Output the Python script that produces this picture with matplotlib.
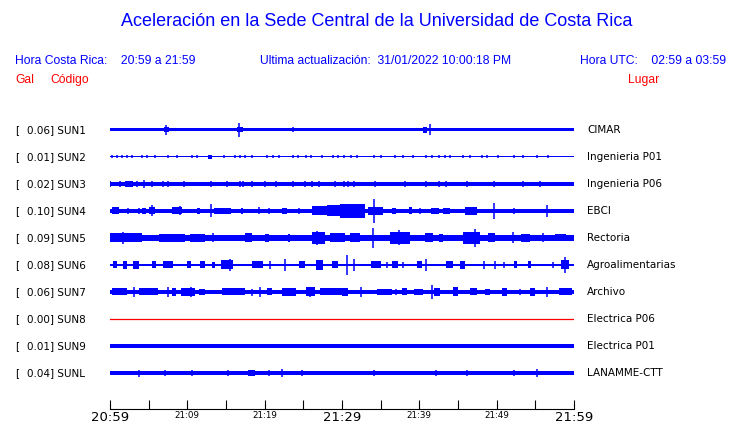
import numpy as np
import matplotlib.pyplot as plt

# ---- data ----
gal = [0.06, 0.01, 0.02, 0.10, 0.09, 0.08, 0.06, 0.00, 0.01, 0.04]
codes = ['SUN1', 'SUN2', 'SUN3', 'SUN4', 'SUN5', 'SUN6', 'SUN7', 'SUN8', 'SUN9', 'SUNL']
places = ['CIMAR', 'Ingenieria P01', 'Ingenieria P06', 'EBCI', 'Rectoria',
          'Agroalimentarias', 'Archivo', 'Electrica P06', 'Electrica P01', 'LANAMME-CTT']

# background half-amplitude of each trace (pixels)
base_amp = [1.5, 0.5, 2.1, 2.1, 2.8, 1.4, 2.1, 0.0, 1.7, 2.3]

# events: (start minute, end minute, half-amplitude px); start == end -> spike
ev_sun1 = [(7.0, 7.6, 2.5), (7.3, 7.3, 4.7), (16.4, 17.2, 2.5), (16.7, 16.7, 7),
           (23.7, 23.7, 2.5), (40.5, 41.0, 3), (41.4, 41.4, 5.5)]
ev_sun2 = [(t, t, 1.5) for t in
           [0.2, 0.9, 1.5, 2.2, 2.8, 4.1, 4.8, 5.8, 7.5, 8.6, 10.6, 11.2, 14.7, 16.2,
            16.8, 17.5, 18.3, 20.3, 21.1, 21.8, 23.6, 24.3, 25.4, 26.0, 27.4, 28.9,
            29.5, 30.2, 31.1, 31.9, 34.1, 35.0, 36.9, 37.9, 39.2, 40.9, 41.6, 42.5,
            43.3, 44.0, 45.7, 46.6, 48.1, 48.7, 50.2, 52.2, 53.4, 55.2, 56.7]] + \
          [(12.7, 13.2, 2.0)]
ev_sun3 = [(t, t, 3) for t in
           [0.0, 1.3, 3.45, 5.4, 6.9, 7.5, 9.6, 15.1, 16.8, 17.2, 18.3, 20.0, 21.5,
            23.7, 25.2, 26.1, 27.0, 29.1, 30.2, 30.8, 31.5, 34.3, 38.1, 40.9, 42.5,
            43.5, 46.1, 49.6, 55.6]] + \
          [(1.9, 3.0, 2.8), (4.4, 4.4, 3.7), (13.1, 13.1, 3.3), (53.4, 53.4, 3.3),
           (57.3, 60.0, 2.4)]
ev_sun4 = [(0.2, 1.1, 3.5), (2.3, 2.3, 3), (3.7, 3.7, 3), (4.2, 4.6, 3), (5.1, 5.8, 3.5),
           (5.4, 5.4, 5.5), (8.0, 9.3, 3.5), (9.1, 9.1, 4.5), (11.2, 11.6, 3),
           (13.1, 13.1, 6.5), (13.4, 15.7, 3), (16.9, 17.2, 3), (19.3, 19.3, 3.5),
           (20.5, 20.5, 3), (22.3, 22.9, 3), (24.5, 24.5, 3), (26.1, 28.0, 4.5),
           (28.0, 30.4, 5.5), (29.7, 33.0, 7), (33.4, 35.3, 4), (34.2, 34.2, 12),
           (36.5, 37.0, 3), (38.6, 39.0, 3.5), (40.1, 40.1, 3), (41.5, 42.5, 3),
           (43.0, 44.0, 3), (45.9, 47.4, 4), (49.6, 49.6, 8), (52.2, 52.2, 3),
           (56.5, 56.5, 6)]
ev_sun5 = [(0.0, 4.1, 4.5), (1.7, 1.7, 6), (6.3, 9.7, 4), (10.3, 12.3, 4), (13.3, 13.3, 4.5),
           (17.5, 18.3, 4.5), (20.0, 20.5, 4), (23.0, 23.3, 4), (26.1, 27.8, 6),
           (26.8, 26.8, 7), (28.5, 30.4, 4.5), (31.0, 32.3, 4.5), (34.0, 34.0, 10),
           (36.2, 38.8, 6), (37.4, 37.4, 7.5), (40.7, 41.8, 4.5), (42.5, 43.0, 4),
           (45.6, 47.8, 6), (47.2, 47.2, 9), (48.9, 49.8, 4.5), (52.1, 52.1, 5.5),
           (53.2, 54.3, 4), (56.0, 56.0, 4.5), (57.5, 59.0, 3.5)]
ev_sun6 = [(0.4, 0.9, 3.5), (1.7, 2.2, 4), (3.0, 3.7, 4), (5.4, 5.9, 3.5), (6.8, 8.2, 3.5),
           (9.9, 10.5, 3.5), (11.6, 12.3, 3.5), (13.2, 13.6, 3), (14.3, 15.9, 4.5),
           (15.5, 15.5, 6), (18.4, 19.8, 3.5), (20.7, 20.7, 3.5), (22.6, 22.6, 6.5),
           (24.5, 25.2, 3.5), (26.6, 27.5, 5), (28.7, 29.5, 3.5), (30.7, 30.7, 10),
           (31.5, 31.5, 6), (33.7, 35.0, 3.5), (35.8, 35.8, 3), (36.5, 37.3, 3.5),
           (37.9, 37.9, 3), (39.7, 40.3, 3.5), (40.9, 40.9, 6), (43.5, 44.3, 3.5),
           (45.3, 45.9, 4), (48.3, 48.3, 4), (49.8, 49.8, 3.5), (50.9, 50.9, 3),
           (52.2, 52.6, 3.5), (54.0, 54.5, 3.5), (57.3, 57.3, 3), (58.3, 59.3, 4.5),
           (58.8, 58.8, 8)]
ev_sun7 = [(0.2, 2.2, 3.5), (3.1, 3.1, 5), (3.8, 6.2, 3.5), (7.5, 7.5, 5.5), (8.0, 8.5, 4),
           (9.2, 11.0, 4), (10.5, 10.5, 5), (11.5, 12.3, 3), (14.5, 17.5, 3.5),
           (18.3, 18.3, 3.5), (19.4, 19.4, 5), (20.3, 21.0, 3.5), (22.3, 24.0, 4),
           (25.3, 26.5, 4.5), (25.9, 25.9, 5.5), (27.2, 30.0, 3.5), (30.0, 30.8, 4),
           (32.5, 32.5, 4.5), (34.5, 36.5, 3), (37.0, 37.0, 3), (37.8, 38.4, 3.5),
           (39.3, 40.5, 3), (41.6, 41.6, 7), (41.9, 42.7, 4), (44.4, 45.0, 4.5),
           (46.5, 47.4, 3.5), (48.5, 49.2, 3), (50.7, 51.4, 4), (53.0, 53.0, 3),
           (54.3, 55.0, 4), (56.5, 56.5, 5), (58.0, 59.8, 3.5)]
ev_sun8 = []
ev_sun9 = []
ev_sunl = [(3.7, 3.7, 3.5), (7.1, 7.1, 3), (10.6, 10.6, 3), (15.3, 15.3, 3),
           (17.9, 18.8, 3), (20.5, 20.5, 3), (22.2, 22.2, 4), (24.8, 24.8, 3),
           (34.1, 34.1, 3), (42.2, 42.2, 3), (46.1, 46.1, 3), (52.2, 52.2, 3),
           (55.2, 55.2, 4)]
events = [ev_sun1, ev_sun2, ev_sun3, ev_sun4, ev_sun5, ev_sun6, ev_sun7, ev_sun8, ev_sun9, ev_sunl]

tick_min = list(range(0, 61, 5))
tick_txt = ['20:59', '', '21:09', '', '21:19', '', '21:29', '', '21:39', '', '21:49', '', '21:59']

# ---- figure ----
W, H = 740, 423
ROW = 27.0  # px between traces
blue = '#0000ff'

fig = plt.figure(figsize=(W / 100, H / 100), dpi=100)

def ftext(x, y, s, **kw):
    fig.text(x / W, 1 - y / H, s, va='center', **kw)

ftext(377, 22, 'Aceleración en la Sede Central de la Universidad de Costa Rica',
      ha='center', fontsize=13, color=blue, family='Liberation Sans')
hdr = dict(fontsize=8.7, color=blue, family='Liberation Sans')
ftext(15, 61, 'Hora Costa Rica:    20:59 a 21:59', **hdr)
ftext(260, 61, 'Ultima actualización:  31/01/2022 10:00:18 PM', **hdr)
ftext(580, 61, 'Hora UTC:    02:59 a 03:59', **hdr)
red = dict(fontsize=8.7, color='red', family='Liberation Sans')
ftext(15, 80, 'Gal', **red)
ftext(50, 80, 'Código', **red)
ftext(628, 80, 'Lugar', **red)

ax = fig.add_axes([110 / W, 1 - 409 / H, 464 / W, (409 - 110) / H])
ax.set_xlim(0, 60)
ax.set_ylim((409 - 130) / ROW, (110 - 130) / ROW)

for i in range(len(codes)):
    y0 = 130 + ROW * i
    ftext(15, y0, '[', fontsize=7.5)
    ftext(27, y0, f'{gal[i]:.2f}] {codes[i]}', fontsize=7.5)
    ftext(587, y0, places[i], fontsize=7.5)

    if base_amp[i] == 0:
        ax.plot([0, 60], [i, i], color='red', lw=0.9)
        continue
    b = base_amp[i] / ROW
    ax.fill_between([0, 60], i - b, i + b, color=blue, lw=0)
    for t0, t1, h in events[i]:
        a = h / ROW
        if t1 > t0:
            ax.fill_between([t0, t1], i - a, i + a, color=blue, lw=0)
        else:
            ax.vlines(t0, i - a, i + a, color=blue, lw=1.1)

for s in ['top', 'left', 'right']:
    ax.spines[s].set_visible(False)
ax.set_yticks([])
ax.set_xticks(tick_min)
ax.set_xticklabels(tick_txt)
ax.tick_params(axis='x', direction='in', length=6.5, width=0.8, pad=1.5)
for k, lab in enumerate(ax.get_xticklabels()):
    lab.set_fontsize(9.5 if tick_min[k] % 30 == 0 else 6.3)

fig.savefig('out.png', dpi=100)
